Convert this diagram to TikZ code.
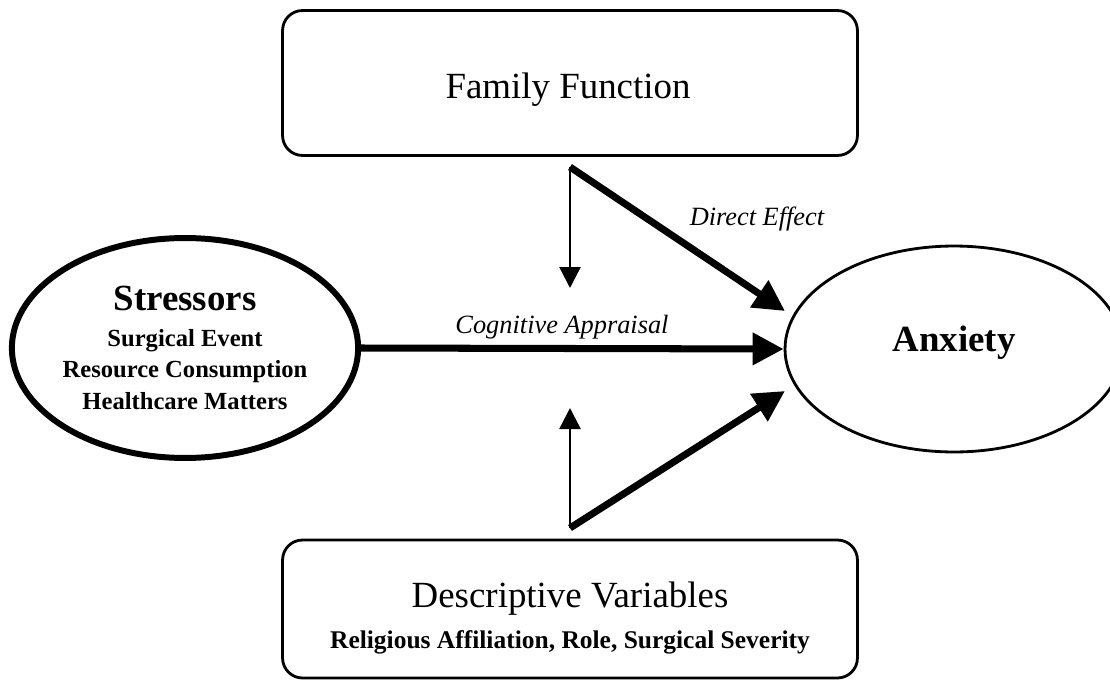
\documentclass[tikz,border=0pt]{standalone}
\usepackage{fontspec}
\setmainfont{Liberation Serif}
\usetikzlibrary{arrows.meta,positioning,shapes.geometric}

\tikzset{
  box/.style={draw, line width=1.6pt, rounded corners=0.4cm,
              minimum width=11.5cm},
  oval/.style={draw, ellipse, inner sep=0pt, align=center},
  headtext/.style={font=\fontsize{21}{25}\selectfont, align=center},
  thickarrow/.style={line width=4pt, -{Triangle[length=0.62cm,width=0.62cm]}},
  thinarrow/.style={line width=1.4pt, -{Triangle[length=0.42cm,width=0.42cm]}},
  lbl/.style={font=\fontsize{15}{18}\selectfont\itshape}
}

\begin{document}
\begin{tikzpicture}[x=0.02cm, y=-0.02cm]
    \useasboundingbox (0,0) rectangle (1110,680);

    % boxes
    \node[box, minimum height=2.9cm] (fam) at (570,83) {};
    \node[headtext] (famtext) at (568,90) {Family Function};
    \node[box, minimum height=2.76cm] (descr) at (570,609) {};
    \node[headtext] (descrtext) at (570,618)
        {Descriptive Variables\\[-2pt]
         {\fontsize{14.5}{17}\selectfont\bfseries Religious Affiliation, Role, Surgical Severity}};

    % ovals
    \node[oval, line width=3.4pt, minimum width=6.88cm, minimum height=4.4cm,
          font=\fontsize{14}{17}\selectfont\bfseries] (stress) at (185,348)
        {{\fontsize{21}{25}\selectfont Stressors}\\[3pt]
         Surgical Event\\[1pt] Resource Consumption\\[1pt] Healthcare Matters};
    \node[oval, line width=1.6pt, minimum width=6.76cm, minimum height=4.12cm,
          font=\fontsize{21}{25}\selectfont\bfseries] (anx) at (954,349) {};
    \node[font=\fontsize{21}{25}\selectfont\bfseries] (anxtext) at (954,343) {Anxiety};

    % forks and arrow ends
    \coordinate (topfork) at (570,167);
    \coordinate (botfork) at (570,528);
    \coordinate (downtip) at (570,288);
    \coordinate (uptip) at (570,408);
    \coordinate (dtip) at (785,311);
    \coordinate (btip) at (785,391);

    \draw[thickarrow] (stress.east) -- (anx.west);
    \draw[thinarrow] (topfork) -- (downtip);
    \draw[thickarrow] (topfork) -- (dtip);
    \draw[thinarrow] (botfork) -- (uptip);
    \draw[thickarrow] (botfork) -- (btip);

    % labels
    \node[lbl] (direct) at (757,219) {Direct Effect};
    \node[lbl] (cog) at (562,327) {Cognitive Appraisal};
\end{tikzpicture}
\end{document}
